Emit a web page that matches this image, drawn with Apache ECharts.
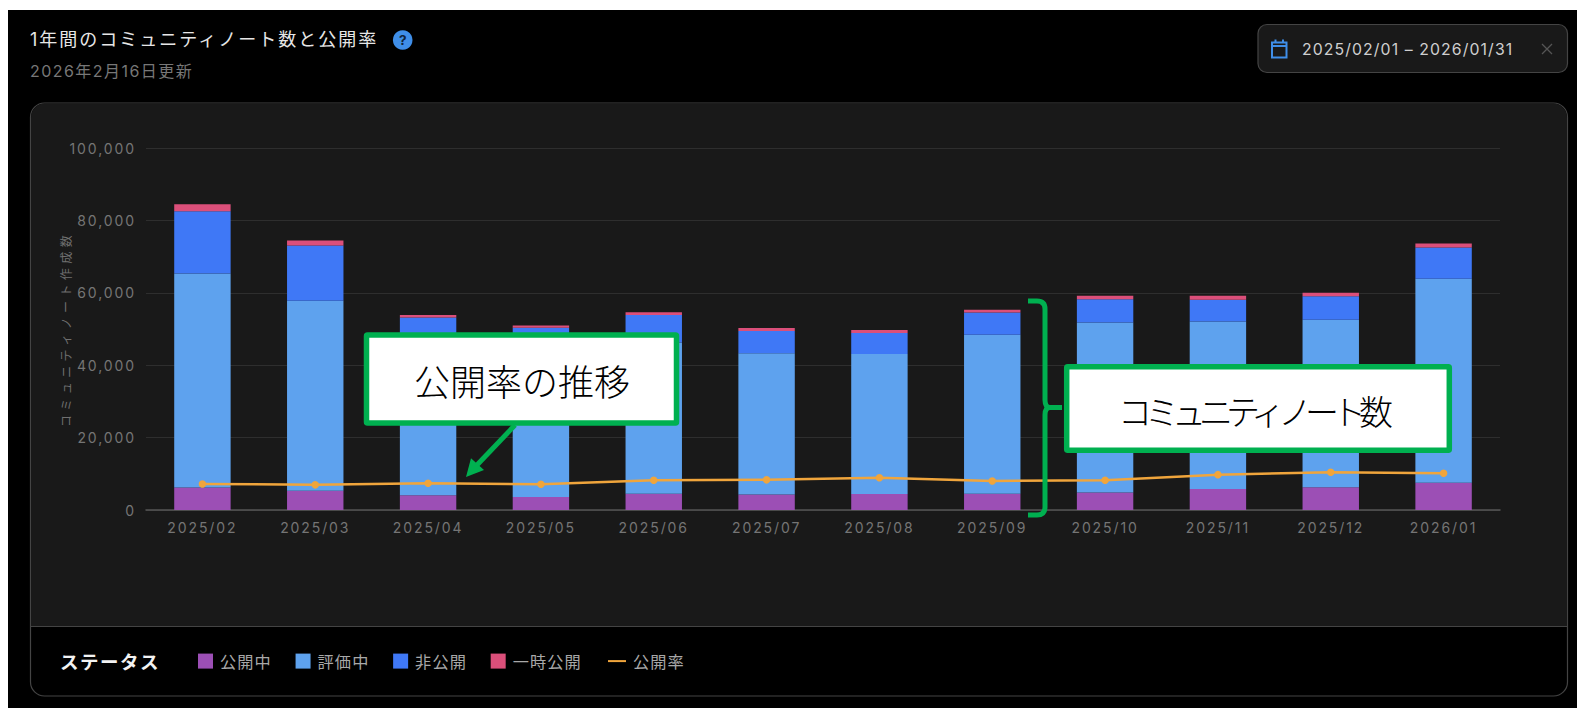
<!DOCTYPE html>
<html lang="ja">
<head>
<meta charset="utf-8">
<title>1年間のコミュニティノート数と公開率</title>
<style>
  html, body { margin: 0; padding: 0; background: #fff; overflow: hidden; }
  #chart { width: 1577px; height: 708px; }
  /* Letter spacing per text style, selected by font size */
  #chart text[style*="14px"] { letter-spacing: 1.9px; }
  #chart text[style*="12px"] { letter-spacing: 4.4px; }
  #chart text[style*="18px"] { letter-spacing: 2px; }
  #chart text[style*="16px"] { letter-spacing: 1.45px; }
  #chart text[style*="15.8px"] { letter-spacing: 1.1px; }
  #chart text[style*="16.2px"] { letter-spacing: 1.1px; }
  #chart text[style*="18.5px"] { letter-spacing: 1.5px; }
  #chart text[style*="34px"] { letter-spacing: -7px; }
</style>
</head>
<body>
<div id="chart"></div>
<script src="https://cdn.jsdelivr.net/npm/echarts@6/dist/echarts.min.js"></script>
<script>
// Monthly community note counts by status
const months = ['2025/02','2025/03','2025/04','2025/05','2025/06','2025/07','2025/08','2025/09','2025/10','2025/11','2025/12','2026/01'];
const published = [6200, 5300, 4050, 3590, 4500, 4300, 4450, 4520, 4800, 5800, 6270, 7500];
const underReview = [59100, 52500, 42750, 40610, 41750, 39030, 38610, 43870, 47000, 46270, 46260, 56400];
const unpublished = [17200, 15250, 6370, 6120, 7650, 6120, 5840, 6160, 6450, 5990, 6540, 8600];
const temporary = [1950, 1400, 730, 640, 750, 830, 830, 750, 920, 1110, 930, 1110];
// Share of published notes, in percent
const publishRate = [7.2, 6.95, 7.37, 7.1, 8.2, 8.33, 8.9, 8.02, 8.2, 9.77, 10.42, 10.15];

const FONT = 'Inter, "Noto Sans CJK JP", sans-serif';
const JP = '"Noto Sans CJK JP", sans-serif';
const GREEN = '#00B050';

// Small vector shapes used in the page furniture
echarts.graphic.registerShape('calendarIcon', echarts.graphic.extendPath('M1272 42.5 H1286.5 V57.5 H1272 Z M1272 46 H1286.5 M1275.5 39.5 V42 M1283 39.5 V42', {}));
echarts.graphic.registerShape('closeIcon', echarts.graphic.extendPath('M1542 44 L1552 54 M1552 44 L1542 54', {}));
echarts.graphic.registerShape('countBrace', echarts.graphic.extendPath('M1028 301 H1037 Q1045 301 1045 309 V400 Q1045 407.5 1050 407.5 H1062 M1050 407.5 Q1045 407.5 1045 415 V507 Q1045 515 1037 515 H1028', {}));

function barSeries(name, data, color) {
  return { name, type: 'bar', stack: 'notes', data, barWidth: '50%', itemStyle: { color }, animation: false };
}

const panelShapes = [
  { type: 'rect', z: -30, shape: { x: 8, y: 10, width: 1569, height: 698 }, style: { fill: '#000' } },
  // Panel: dark plot area above the divider, black footer below
  { type: 'rect', z: -20, shape: { x: 30.5, y: 103, width: 1537, height: 593, r: 14 }, style: { fill: '#000', stroke: '#444', lineWidth: 1.2 } },
  { type: 'rect', z: -19, shape: { x: 31, y: 103.6, width: 1536, height: 523, r: [14, 14, 0, 0] }, style: { fill: '#191919' } },
  { type: 'line', z: -18, shape: { x1: 31, y1: 626.5, x2: 1567, y2: 626.5 }, style: { stroke: '#444', lineWidth: 1.2 } },
  // Help badge
  { type: 'circle', z: 5, shape: { cx: 402.7, cy: 40, r: 9.8 }, style: { fill: '#3F8EE8' } },
  { type: 'text', z: 6, style: { x: 402.7, y: 40, text: '?', fill: '#10243c', font: 'bold 13.5px ' + FONT, textAlign: 'center', textVerticalAlign: 'middle' } },
  // Date range control
  { type: 'rect', z: 5, shape: { x: 1258, y: 24.5, width: 309.5, height: 48, r: 9 }, style: { fill: '#191919', stroke: '#444', lineWidth: 1.2 } },
  { type: 'calendarIcon', z: 6, style: { fill: 'none', stroke: '#3F8EE8', lineWidth: 2 } },
  { type: 'text', z: 6, style: { x: 1302, y: 49, text: '2025/02/01 – 2026/01/31', fill: '#cfcfcf', font: '15.8px ' + FONT, textAlign: 'left', textVerticalAlign: 'middle' } },
  { type: 'closeIcon', z: 6, style: { fill: 'none', stroke: '#555', lineWidth: 1.3 } },
  // Footer heading
  { type: 'text', z: 6, style: { x: 60, y: 661, text: 'ステータス', fill: '#f2f2f2', font: 'bold 18.5px ' + JP, textAlign: 'left', textVerticalAlign: 'middle' } }
];

const calloutShapes = [
  // Callout for the rate line
  { type: 'rect', z: 50, shape: { x: 366.5, y: 335, width: 310, height: 88, r: 1 }, style: { fill: '#fff', stroke: GREEN, lineWidth: 5.5 } },
  { type: 'text', z: 51, style: { x: 522, y: 380, text: '公開率の推移', fill: '#000', font: '300 36px ' + JP, textAlign: 'center', textVerticalAlign: 'middle' } },
  { type: 'line', z: 49, shape: { x1: 515, y1: 425, x2: 477, y2: 465 }, style: { stroke: GREEN, lineWidth: 5 } },
  { type: 'polygon', z: 49, shape: { points: [[466, 477], [471, 458.3], [484, 470]] }, style: { fill: GREEN } },
  // Callout for the note counts, with its brace
  { type: 'countBrace', z: 49, style: { fill: 'none', stroke: GREEN, lineWidth: 5 } },
  { type: 'rect', z: 50, shape: { x: 1066.7, y: 366.7, width: 382.6, height: 83.6, r: 1 }, style: { fill: '#fff', stroke: GREEN, lineWidth: 5.5 } },
  { type: 'text', z: 51, style: { x: 1252, y: 410, text: 'コミュニティノート数', fill: '#000', font: '300 34px ' + JP, textAlign: 'center', textVerticalAlign: 'middle' } }
];

const chart = echarts.init(document.getElementById('chart'), null, { renderer: 'svg', width: 1577, height: 708 });
chart.setOption({
  animation: false,
  backgroundColor: 'transparent',
  textStyle: { fontFamily: FONT },
  title: {
    text: '1年間のコミュニティノート数と公開率',
    subtext: '2026年2月16日更新',
    left: 30, top: 30, padding: 0, itemGap: 15,
    textStyle: { color: '#e6e6e6', fontSize: 18, fontWeight: 'normal', fontFamily: FONT },
    subtextStyle: { color: '#777', fontSize: 16, fontFamily: FONT }
  },
  grid: { left: 146, right: 77, top: 148, height: 362 },
  legend: [
    {
      data: ['公開中', '評価中', '非公開', '一時公開'],
      left: 198, top: 653, padding: 0, icon: 'rect', itemWidth: 15, itemHeight: 15, itemGap: 27,
      selectedMode: false,
      textStyle: { color: '#a8a8a8', fontSize: 16.2, fontFamily: JP, padding: [0, 0, 0, 2] }
    },
    {
      data: ['公開率'],
      left: 608, top: 653, padding: 0, icon: 'rect', itemWidth: 18, itemHeight: 2,
      selectedMode: false,
      textStyle: { color: '#a8a8a8', fontSize: 16.2, fontFamily: JP, padding: [0, 0, 0, 2] }
    }
  ],
  xAxis: {
    type: 'category', data: months,
    axisTick: { show: false },
    axisLine: { lineStyle: { color: '#555', width: 1.5 } },
    axisLabel: { color: '#757575', fontSize: 14, margin: 10 }
  },
  yAxis: [
    {
      type: 'value', min: 0, max: 100000, interval: 20000,
      name: 'コミュニティノート作成数',
      nameLocation: 'middle', nameGap: 69,
      nameTextStyle: { color: '#707070', fontSize: 12, fontFamily: JP },
      axisLine: { show: false }, axisTick: { show: false },
      axisLabel: { color: '#757575', fontSize: 14, margin: 10 },
      splitLine: { lineStyle: { color: '#2e2e2e', width: 1 } }
    },
    { type: 'value', min: 0, max: 100, show: false, splitLine: { show: false } }
  ],
  series: [
    barSeries('公開中', published, '#9C4FB5'),
    barSeries('評価中', underReview, '#5EA2EE'),
    barSeries('非公開', unpublished, '#3F78F6'),
    barSeries('一時公開', temporary, '#DB4F7A'),
    {
      name: '公開率', type: 'line', yAxisIndex: 1, data: publishRate, z: 5,
      symbol: 'circle', symbolSize: 7.5,
      itemStyle: { color: '#F0A53C' },
      lineStyle: { color: '#F0A53C', width: 2.5 },
      animation: false
    }
  ],
  graphic: { elements: panelShapes.concat(calloutShapes) }
});
</script>
</body>
</html>
